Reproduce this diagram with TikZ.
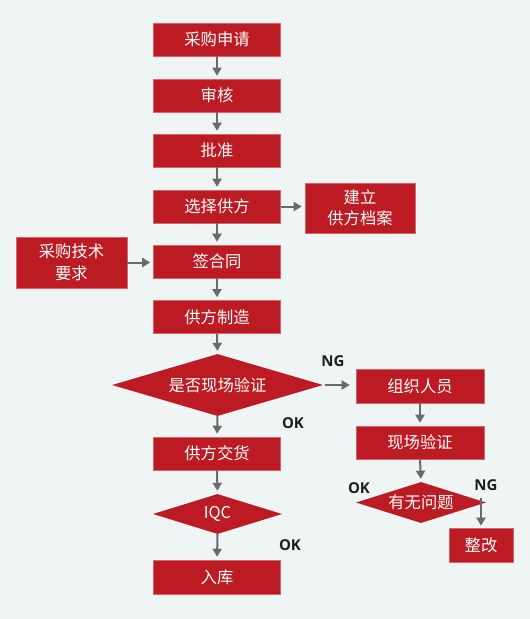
\documentclass[tikz,border=0pt]{standalone}
\usepackage{fontspec}
\setmainfont{Noto Sans CJK SC}
\newfontfamily\lblfont{Open Sans}
\usetikzlibrary{shapes.geometric,arrows.meta}
\definecolor{bgc}{HTML}{EFF4F5}
\definecolor{myred}{HTML}{BD1B23}
\definecolor{myborder}{HTML}{D9636A}
\definecolor{arrc}{HTML}{6A6A6A}
\definecolor{lblc}{HTML}{1E1E1E}
\tikzset{
  box/.style={rectangle, fill=myred, draw=myborder, line width=0.6pt, text=white,
    inner sep=0pt, minimum width=127pt, minimum height=33pt, align=center,
    font=\fontsize{16.3}{21.5}\selectfont},
  dia/.style={diamond, fill=myred, draw=none, text=white, inner sep=0pt,
    font=\fontsize{16.3}{21.5}\selectfont},
  arr/.style={draw=arrc, line width=2pt, -{Triangle[width=9pt,length=8pt]}, shorten >=3pt},
  lbl/.style={text=lblc, font=\lblfont\bfseries\fontsize{15}{18}\selectfont, inner sep=0pt}
}
\begin{document}
\begin{tikzpicture}[x=1pt,y=-1pt]
\fill[bgc] (0,0) rectangle (530,619);
\useasboundingbox (0,0) rectangle (530,619);
\node[box] (n1) at (217,39.5) {采购申请};
\node[box] (n2) at (217,95.5) {审核};
\node[box] (n3) at (217,150.5) {批准};
\node[box] (n4) at (217,206.5) {选择供方};
\node[box, minimum width=110pt, minimum height=50pt] (jl) at (360,208) {建立\\供方档案};
\node[box] (n5) at (217,261.5) {签合同};
\node[box, minimum width=111pt, minimum height=51pt] (req) at (71.5,262.5) {采购技术\\要求};
\node[box] (n6) at (217,317) {供方制造};
\node[dia, aspect=3.4, minimum width=211pt, minimum height=62pt] (d1) at (217.5,385) {是否现场验证};
\node[box, minimum width=128pt, minimum height=34pt] (r1) at (420,386) {组织人员};
\node[box, minimum width=128pt] (r2) at (420,442.5) {现场验证};
\node[dia, aspect=3.2, minimum width=130pt, minimum height=41pt] (d2) at (421,502.5) {有无问题};
\node[box, minimum width=64pt, minimum height=34pt] (zg) at (481,545) {整改};
\node[box] (n7) at (217,453.5) {供方交货};
\node[dia, aspect=3.2, minimum width=129pt, minimum height=40pt] (d3) at (217.5,514) {IQC};
\node[box, minimum height=34pt] (n8) at (217,577) {入库};

\node[lbl] (ng1) at (333,361) {NG};
\node[lbl] (ok1) at (293,423) {OK};
\node[lbl] (ok2) at (359,488) {OK};
\node[lbl] (ng2) at (486,485) {NG};
\node[lbl] (ok3) at (290,545) {OK};

\draw[arr] (n1.south) -- (n2.north);
\draw[arr] (n2.south) -- (n3.north);
\draw[arr] (n3.south) -- (n4.north);
\draw[arr] (n4.east) -- (n4.east -| jl.west);
\draw[arr] (n4.south) -- (n5.north);
\draw[arr] (req.east) -- (req.east -| n5.west);
\draw[arr] (n5.south) -- (n6.north);
\draw[arr] (n6.south) -- (d1.north);
\draw[arr, shorten <=2pt, shorten >=6pt] (d1.east) -- (d1.east -| r1.west);
\draw[arr] (r1.south) -- (r2.north);
\draw[arr] (r2.south) -- (d2.north);
\draw[arr, shorten >=2pt] ([yshift=5pt]zg.north |- d2.east) -- (zg.north);
\draw[arr] (d1.south) -- (n7.north);
\draw[arr] (n7.south) -- (d3.north);
\draw[arr] (d3.south) -- (n8.north);
\end{tikzpicture}
\end{document}
